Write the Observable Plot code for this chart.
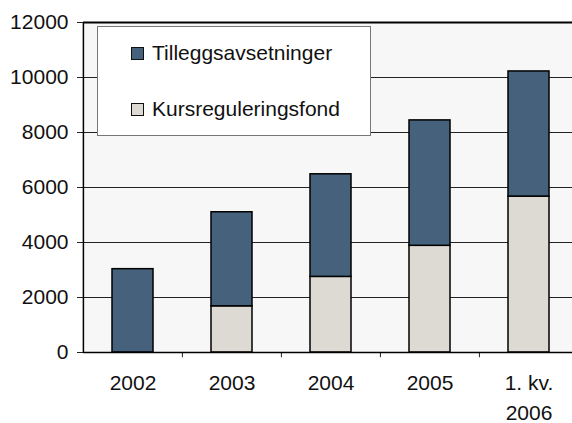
<!DOCTYPE html>
<html>
<head>
<meta charset="utf-8">
<script src="https://cdn.jsdelivr.net/npm/d3@7"></script>
<script src="https://cdn.jsdelivr.net/npm/@observablehq/plot@0.6"></script>
<style>
  html, body { margin: 0; padding: 0; background: #fff; }
  #wrap { position: relative; width: 572px; height: 423px; overflow: hidden; font-family: "Liberation Sans", Arial, sans-serif; }
  #legend { position: absolute; left: 97px; top: 26px; width: 274px; height: 110px; background: #fff; border: 1px solid #777; box-sizing: border-box; }
  .item { position: absolute; left: 33px; display: flex; align-items: center; font-size: 21px; color: #111; white-space: nowrap; }
  .sw { width: 11px; height: 11px; border: 1.5px solid #111; margin-right: 8px; }
</style>
</head>
<body>
<div id="wrap"></div>
<script>
const categories = ["2002", "2003", "2004", "2005", "1. kv. 2006"];
const tickLabels = ["2002", "2003", "2004", "2005", "1. kv.\n2006"];
const seriesNames = ["Tilleggsavsetninger", "Kursreguleringsfond"];
const kursreguleringsfond = [0, 1680, 2750, 3880, 5670];
const tilleggsavsetninger = [3030, 3420, 3730, 4560, 4550];
const yTicks = [0, 2000, 4000, 6000, 8000, 10000, 12000];
const colors = ["#46617B", "#DDDAD3"];

const rows = [];
categories.forEach((c, i) => {
  rows.push({cat: c, series: seriesNames[1], value: kursreguleringsfond[i]});
  rows.push({cat: c, series: seriesNames[0], value: tilleggsavsetninger[i]});
});

const W = 572, H = 423;
const xRange = [83, 579];
const step = (xRange[1] - xRange[0]) / categories.length;
const labelOf = new Map(categories.map((c, i) => [c, tickLabels[i]]));

const chart = Plot.plot({
  width: W,
  height: H,
  marginLeft: 83,
  marginTop: 22,
  marginBottom: 71,
  marginRight: 0,
  style: {fontFamily: "'Liberation Sans', Arial, sans-serif", fontSize: "21px", color: "#111", overflow: "hidden"},
  x: {domain: categories, range: xRange, paddingInner: 0.585, paddingOuter: 0.2925, label: null},
  y: {domain: [0, 12000], label: null},
  color: {domain: seriesNames, range: colors},
  marks: [
    Plot.frame({fill: "#F7F7F7", stroke: "none"}),
    Plot.gridY(yTicks, {stroke: "#222", strokeOpacity: 1, strokeWidth: 1}),
    Plot.ruleY([12000], {stroke: "#000", strokeWidth: 2}),
    Plot.barY(rows, {filter: d => d.value > 0, x: "cat", y: "value", fill: "series", stroke: "#000", strokeWidth: 1.5, order: null}),
    Plot.ruleX(categories.slice(1), {x: d => d, y1: 0, y2: -190, dx: -step / 2, stroke: "#222", strokeWidth: 1, clip: false}),
    Plot.ruleX([categories[0]], {x: d => d, y1: 0, y2: 12000, dx: -step / 2, stroke: "#000", strokeWidth: 1.5}),
    Plot.ruleY([0], {stroke: "#000", strokeWidth: 1.5}),
    Plot.axisY(yTicks, {tickSize: 6, tickPadding: 9, stroke: "#222", fontSize: 21, fill: "#111", tickFormat: d3.format("d"), label: null}),
    Plot.axisX({tickSize: 0, tickPadding: 17, tickFormat: d => labelOf.get(d), fontSize: 21, fill: "#111", lineHeight: 1.4, label: null})
  ]
});

const wrap = document.getElementById("wrap");
wrap.appendChild(chart);

const legend = document.createElement("div");
legend.id = "legend";
const tops = [14, 70];
seriesNames.forEach((name, i) => {
  const item = document.createElement("div");
  item.className = "item";
  item.style.top = tops[i] + "px";
  const sw = document.createElement("div");
  sw.className = "sw";
  sw.style.background = colors[i];
  const t = document.createElement("span");
  t.textContent = name;
  item.appendChild(sw);
  item.appendChild(t);
  legend.appendChild(item);
});
wrap.appendChild(legend);
</script>
</body>
</html>
